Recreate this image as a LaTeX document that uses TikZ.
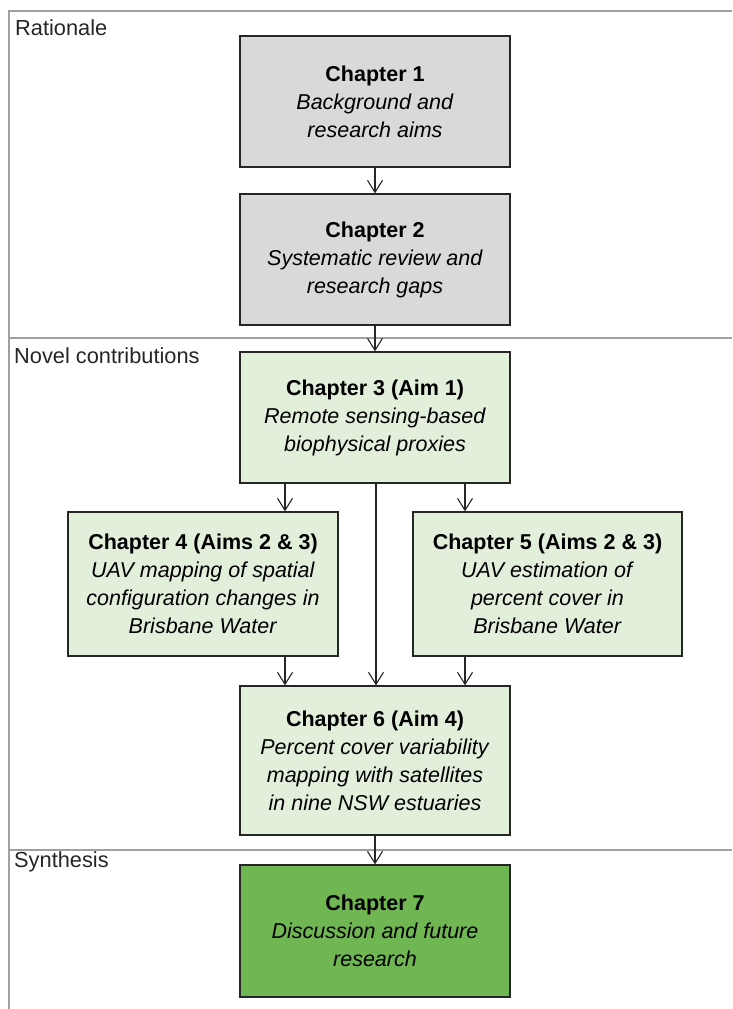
\documentclass[tikz,border=0pt]{standalone}
\usepackage{fontspec}
\setmainfont{Liberation Sans}
\usetikzlibrary{arrows.meta}
\definecolor{boxgray}{HTML}{D9D9D9}
\definecolor{boxlight}{HTML}{E2EFDA}
\definecolor{boxdark}{HTML}{70B653}
\definecolor{framegray}{HTML}{A0A0A0}
\tikzset{
  chbox/.style={draw=black!85, line width=1.3pt, align=center, inner sep=0pt,
    font=\fontsize{21.5}{28}\selectfont},
  grayb/.style={chbox, fill=boxgray, minimum width=270pt, minimum height=131pt},
  lightb/.style={chbox, fill=boxlight},
  darkb/.style={chbox, fill=boxdark, minimum width=270pt, minimum height=132pt},
  arr/.style={draw=black!85, line width=1.1pt, -{Straight Barb[length=12pt,width=15pt]}},
  frameline/.style={draw=framegray, line width=1.8pt},
  seclabel/.style={anchor=west, inner sep=0pt, font=\fontsize{21.8}{24}\selectfont, text=black!85}
}
\begin{document}
\begin{tikzpicture}[x=1pt,y=-1pt]
\useasboundingbox (0,0) rectangle (732,1009);
% frame
\draw[frameline] (9,1009) -- (9,11) -- (732,11);
\draw[frameline] (9,338) -- (732,338);
\draw[frameline] (9,850) -- (732,850);
\node[seclabel] (lr) at (15,28) {Rationale};
\node[seclabel] (ln) at (14,356) {Novel contributions};
\node[seclabel] (ls) at (14,862) {Synthesis};
% boxes
\node[grayb] (c1) at (375,101.5) {\textbf{Chapter 1}\\\textit{Background and}\\\textit{research aims}};
\node[grayb] (c2) at (375,259.5) {\textbf{Chapter 2}\\\textit{Systematic review and}\\\textit{research gaps}};
\node[lightb, minimum width=270pt, minimum height=131pt] (c3) at (375,417.5) {\textbf{Chapter 3 (Aim 1)}\\\textit{Remote sensing-based}\\\textit{biophysical proxies}};
\node[lightb, minimum width=270pt, minimum height=144pt] (c4) at (203,584) {\textbf{Chapter 4 (Aims 2 \& 3)}\\\textit{UAV mapping of spatial}\\\textit{configuration changes in}\\\textit{Brisbane Water}};
\node[lightb, minimum width=269pt, minimum height=144pt] (c5) at (547.5,584) {\textbf{Chapter 5 (Aims 2 \& 3)}\\\textit{UAV estimation of}\\\textit{percent cover in}\\\textit{Brisbane Water}};
\node[lightb, minimum width=270pt, minimum height=149pt] (c6) at (375,760.5) {\textbf{Chapter 6 (Aim 4)}\\\textit{Percent cover variability}\\\textit{mapping with satellites}\\\textit{in nine NSW estuaries}};
\node[darkb] (c7) at (375,931) {\textbf{Chapter 7}\\\textit{Discussion and future}\\\textit{research}};
% arrows
\draw[arr] (c1) -- (c2);
\draw[arr] (c2) -- (c3);
\draw[arr] ([xshift=-90pt]c3.south) -- ([xshift=-90pt]c3.south |- c4.north);
\draw[arr] ([xshift=90pt]c3.south) -- ([xshift=90pt]c3.south |- c5.north);
\draw[arr] ([xshift=1pt]c3.south) -- ([xshift=1pt]c6.north);
\draw[arr] ([xshift=82pt]c4.south) -- ([xshift=82pt]c4.south |- c6.north);
\draw[arr] ([xshift=-82.5pt]c5.south) -- ([xshift=-82.5pt]c5.south |- c6.north);
\draw[arr] (c6) -- (c7);
\end{tikzpicture}
\end{document}
